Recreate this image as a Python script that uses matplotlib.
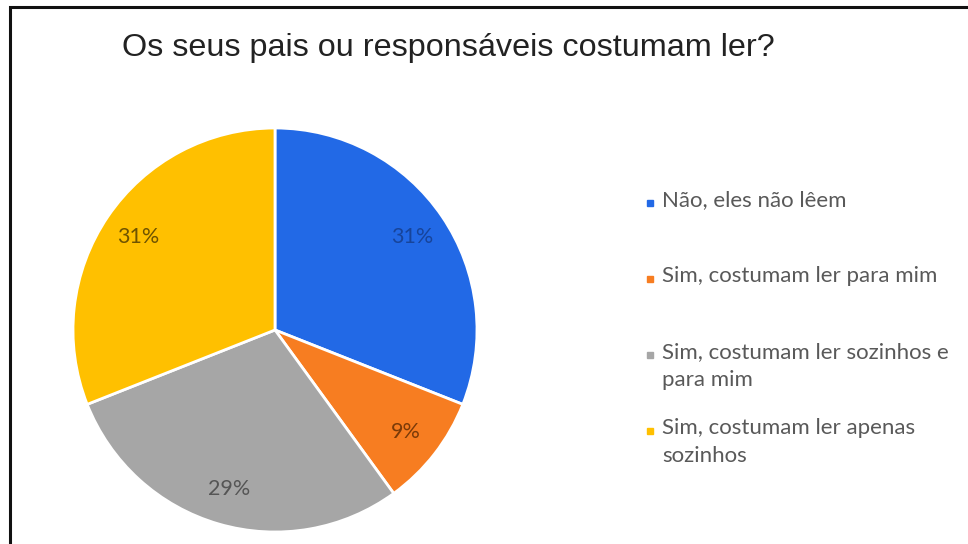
import matplotlib
matplotlib.use("Agg")
import matplotlib.pyplot as plt
from matplotlib.patches import Rectangle

title = "Os seus pais ou responsáveis costumam ler?"
labels = ["Não, eles não lêem",
          "Sim, costumam ler para mim",
          "Sim, costumam ler sozinhos e\npara mim",
          "Sim, costumam ler apenas\nsozinhos"]
values = [31, 9, 29, 31]
colors = ["#2269e6", "#f77d21", "#a6a6a6", "#ffc000"]
label_colors = ["#17449a", "#7a3a08", "#555555", "#6e5300"]

W, H = 968, 544
fig = plt.figure(figsize=(W / 100, H / 100), dpi=100)
fig.patch.set_facecolor("white")

# frame around chart (right/bottom cut off in the screenshot)
fig.add_artist(Rectangle((10 / W, -0.1), 1.2, (H - 7) / H + 0.1, transform=fig.transFigure,
                         fill=False, edgecolor="#111111", linewidth=2.2))

fig.text(122 / W, 1 - 48 / H, title, fontsize=23.3, family="Liberation Sans",
         color="#222222", va="center", ha="left")

# pie
r = 202
cx, cy = 275, 330
ax = fig.add_axes([(cx - r) / W, (H - cy - r) / H, 2 * r / W, 2 * r / H])
wedges, texts, autotexts = ax.pie(values, colors=colors, startangle=90, counterclock=False,
                                  autopct="%d%%", pctdistance=0.82,
                                  wedgeprops=dict(edgecolor="white", linewidth=2))
for t, c in zip(autotexts, label_colors):
    t.set_color(c)
    t.set_fontsize(15.5)
    t.set_family("Lato")
ax.set_xlim(-1, 1)
ax.set_ylim(-1, 1)
ax.set_aspect("auto")
ax.axis("off")

# legend
y0, step = 203, 76
for i, (lab, col) in enumerate(zip(labels, colors)):
    y = y0 + i * step
    fig.add_artist(Rectangle(((650 - 3) / W, 1 - (y + 3) / H), 6 / W, 6 / H,
                             transform=fig.transFigure, color=col))
    fig.text(662 / W, 1 - (y - 13) / H, lab, fontsize=16, family="Lato",
             color="#595959", va="top", ha="left", linespacing=1.5)

fig.savefig("out.png", dpi=100)
